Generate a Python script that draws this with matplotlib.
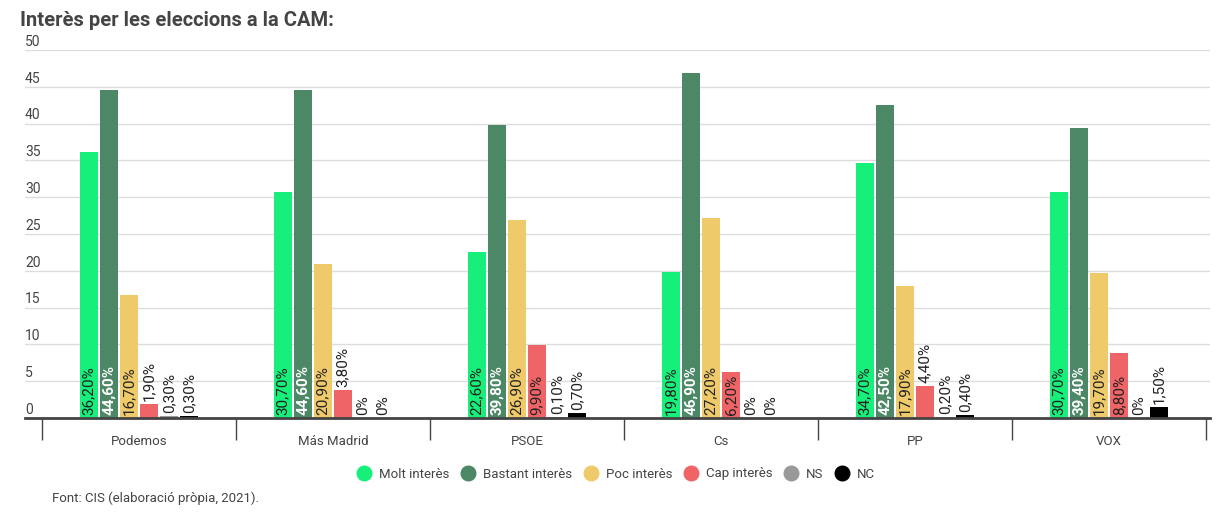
import matplotlib.pyplot as plt
import numpy as np
from matplotlib.lines import Line2D

plt.rcParams['font.family'] = ['Roboto', 'DejaVu Sans']

parties = ['Podemos', 'Más Madrid', 'PSOE', 'Cs', 'PP', 'VOX']
series = ['Molt interès', 'Bastant interès', 'Poc interès', 'Cap interès', 'NS', 'NC']
molt = [36.2, 30.7, 22.6, 19.8, 34.7, 30.7]
bastant = [44.6, 44.6, 39.8, 46.9, 42.5, 39.4]
poc = [16.7, 20.9, 26.9, 27.2, 17.9, 19.7]
cap = [1.9, 3.8, 9.9, 6.2, 4.4, 8.8]
ns = [0.3, 0.0, 0.1, 0.0, 0.2, 0.0]
nc = [0.3, 0.0, 0.7, 0.0, 0.4, 1.5]
yticks = [0, 5, 10, 15, 20, 25, 30, 35, 40, 45, 50]

values = [molt, bastant, poc, cap, ns, nc]
colors = ['#17ef7b', '#4c8766', '#eeca6a', '#ef6467', '#999999', '#000000']
txtcol = ['#222222', 'white', '#222222', '#222222', '#222222', '#222222']

fig = plt.figure(figsize=(12.26, 5.17), dpi=100)
ax = fig.add_axes([25/1226, 1-418/517, (1210-25)/1226, (418-50)/517])

x = np.arange(len(parties))
step = 0.103
w = 0.093
for j, (vals, c) in enumerate(zip(values, colors)):
    xs = x + (j - 2.5) * step
    ax.bar(xs, vals, width=w, color=c, zorder=3)
    for xi, v in zip(xs, vals):
        lab = ('%.2f' % v).replace('.', ',') + '%' if v > 0 else '0%'
        if v >= 6:
            ax.text(xi, 0.4, lab, rotation=90, ha='center', va='bottom',
                    fontsize=11, color=txtcol[j],
                    fontweight='bold' if j == 1 else 'normal', zorder=4)
        else:
            ax.text(xi, v + 0.4, lab, rotation=90, ha='center', va='bottom',
                    fontsize=11, color='#222222', zorder=4)

ax.set_xlim(-0.5 - 17/194, 5.5 + 4/194)
ax.set_ylim(0, 50)
ax.set_yticks(yticks)
ax.yaxis.grid(True, color='#dddddd', lw=1, zorder=0)
ax.tick_params(axis='y', length=0, labelleft=False)
for t in yticks:
    ax.text(0, t + 0.15, str(t), transform=ax.get_yaxis_transform(),
            ha='left', va='bottom', fontsize=10, color='#444444')

ax.set_xticks(x)
ax.set_xticklabels(parties, fontsize=9.5, color='#444444')
ax.set_xticks(np.arange(-0.5, 6, 1), minor=True)
ax.tick_params(axis='x', which='major', length=0, pad=12)
ax.tick_params(axis='x', which='minor', length=16, width=1, color='#444444')

for s in ['top', 'right', 'left']:
    ax.spines[s].set_visible(False)
ax.spines['bottom'].set_color('#444444')
ax.spines['bottom'].set_linewidth(2)
ax.spines['bottom'].set_zorder(5)

fig.text(20/1226, 1-20/517, 'Interès per les eleccions a la CAM:', fontsize=14.5,
         fontweight='bold', color='#444444', ha='left', va='center')
fig.text(52/1226, 1-498/517, 'Font: CIS (elaboració pròpia, 2021).', fontsize=9.5,
         color='#444444', ha='left', va='center')

handles = [Line2D([], [], marker='o', ls='', markersize=10.5, color=c) for c in colors]
fig.legend(handles, series, loc='center', bbox_to_anchor=(613/1226, 1-474/517),
           ncol=6, frameon=False, fontsize=9.5, handletextpad=0.15,
           columnspacing=0.4, labelcolor='#444444')

fig.savefig('out.png', dpi=100)
